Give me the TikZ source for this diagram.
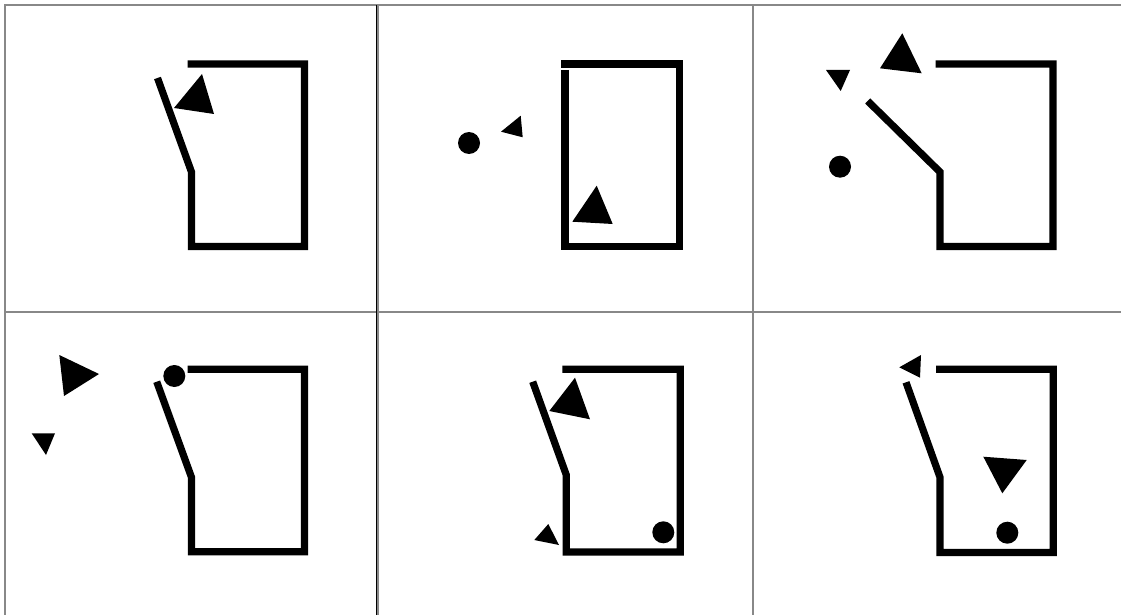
\documentclass[tikz,border=0pt]{standalone}
\definecolor{gridgray}{RGB}{136,136,136}
\tikzstyle{gridline} = [draw = gridgray, line width = 2pt]
\tikzstyle{wall} = [draw, line width = 7.2pt, miter limit = 10]
\tikzstyle{token} = [fill = black]
\begin{document}
\begin{tikzpicture}[x = 1pt, y = -1pt]
		\useasboundingbox (0, 0) rectangle (1121, 615);
		\draw [gridline] (4.8, 615) -- (4.8, 5.2) -- (1121, 5.2);
		\draw [gridline] (4.8, 311.7) -- (1121, 311.7);
		\draw [black, line width = 1.3pt] (376.7, 5.2) -- (376.7, 615);
		\draw [gridline] (378.3, 5.2) -- (378.3, 615);
		\draw [gridline] (753, 5.2) -- (753, 615);

		\draw [wall] (157.5, 78) -- (191.5, 172) -- (191.5, 246.5) -- (304.5, 246.5) -- (304.5, 64) -- (187.7, 64);
		\path [token] (202, 74) -- (174, 108) -- (214, 114) -- cycle;

		\draw [wall] (565, 70) -- (565, 246.5) -- (679.5, 246.5) -- (679.5, 64) -- (561, 64);
		\path [token] (469, 143) circle [radius = 11pt];
		\path [token] (520.7, 115.7) -- (501, 131.7) -- (522.7, 137.3) -- cycle;
		\path [token] (596.7, 185.7) -- (572.3, 221.7) -- (612.7, 224) -- cycle;

		\draw [wall] (867.7, 101) -- (940, 172) -- (940, 246.5) -- (1053, 246.5) -- (1053, 64) -- (935.7, 64);
		\path [token] (826, 70) -- (850, 70) -- (840.7, 91) -- cycle;
		\path [token] (902.3, 33.3) -- (880, 68.3) -- (921.7, 73.3) -- cycle;
		\path [token] (840, 166.7) circle [radius = 11pt];

		\draw [wall] (156.7, 381.7) -- (191.5, 477.3) -- (191.5, 551.8) -- (304.5, 551.8) -- (304.5, 369.3) -- (187.7, 369.3);
		\path [token] (174.3, 376) circle [radius = 11pt];
		\path [token] (59.3, 355) -- (99, 374) -- (64, 396) -- cycle;
		\path [token] (31.7, 433.3) -- (55, 433.3) -- (46, 455) -- cycle;

		\draw [wall] (532.7, 381.7) -- (566.3, 475) -- (566.3, 552) -- (680.3, 552) -- (680.3, 369.3) -- (562.3, 369.3);
		\path [token] (575, 377.7) -- (549.3, 411) -- (590, 419.3) -- cycle;
		\path [token] (548.3, 524) -- (534.3, 540) -- (559, 545) -- cycle;
		\path [token] (663.3, 532.3) circle [radius = 11pt];

		\draw [wall] (906, 382.3) -- (940, 477.3) -- (940, 552.5) -- (1053.3, 552.5) -- (1053.3, 369.3) -- (936, 369.3);
		\path [token] (921, 355) -- (899.3, 367.3) -- (920, 377.7) -- cycle;
		\path [token] (983.3, 456.7) -- (1026.7, 460) -- (1002.3, 493.3) -- cycle;
		\path [token] (1007.3, 532.7) circle [radius = 11pt];
	\end{tikzpicture}
\end{document}
